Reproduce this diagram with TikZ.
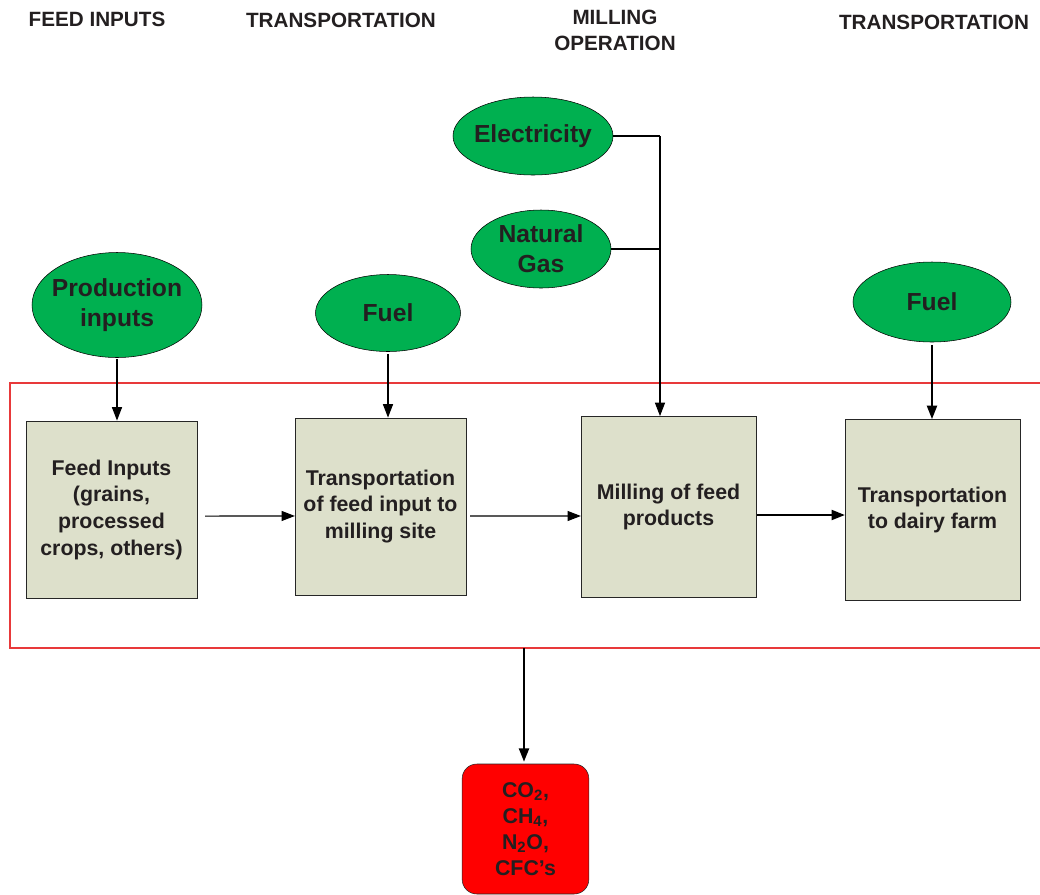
\documentclass[tikz,border=0pt]{standalone}
\usepackage{fontspec}
\setmainfont{Liberation Sans}
\usetikzlibrary{positioning, arrows.meta, shapes.geometric}
\definecolor{inputGreen}{HTML}{00B050}
\definecolor{stepGrey}{HTML}{DDE0CB}
\definecolor{textDark}{HTML}{231F20}
\definecolor{frameRed}{HTML}{E8393A}
\definecolor{emitRed}{HTML}{FF0000}

\begin{document}
\begin{tikzpicture}[x=0.75pt, y=-0.75pt,
    head/.style={font=\bfseries\fontsize{15.5}{19.5}\selectfont, text=textDark, align=center},
    source/.style={ellipse, draw=black, fill=inputGreen, inner sep=0pt, align=center,
                   font=\bfseries\fontsize{18.5}{22.5}\selectfont, text=textDark},
    stepbox/.style={draw=black!85, fill=stepGrey, align=center, inner sep=2pt,
                    font=\bfseries\fontsize{16}{20}\selectfont, text=textDark,
                    minimum width=128pt, minimum height=133pt},
    flow/.style={-{Triangle[length=10pt, width=7.5pt]}, line width=0.8pt},
    flowbold/.style={flow, line width=1.5pt}]
    \useasboundingbox (0,0) rectangle (1040,894);

    % column titles
    \node[head] (hFeed)  at (97,19)   {FEED INPUTS};
    \node[head] (hTrA)   at (341,20)  {TRANSPORTATION};
    \node[head] (hMill)  at (615,30)  {MILLING\\OPERATION};
    \node[head] (hTrB)   at (934,22)  {TRANSPORTATION};

    % inputs
    \node[source, inner xsep=-4pt, minimum width=127.5pt, minimum height=78.75pt] (prod) at (117,305) {Production\\inputs};
    \node[source, minimum width=108.75pt, minimum height=57.75pt] (fuelA) at (388,313) {Fuel};
    \node[source, inner xsep=-2pt, minimum width=120pt, minimum height=58.5pt] (elec) at (533,136) {Electricity};
    \node[source, minimum width=105pt, minimum height=58.5pt] (gas)   at (541,249) {Natural\\Gas};
    \node[source, minimum width=118.5pt, minimum height=60pt] (fuelB) at (932,302) {Fuel};

    % system boundary
    \draw[frameRed, line width=0.8pt] (1040,383) -- (10,383) -- (10,648) -- (1040,648);
    \coordinate (fb) at (524,648);

    % process steps
    \node[stepbox] (feed) at (111.5,509.5) {Feed Inputs\\(grains,\\processed\\crops, others)};
    \node[stepbox] (trA)  at (380.5,506.5) {Transportation\\of feed input to\\milling site};
    \node[stepbox, minimum width=131pt, minimum height=136pt] (mill) at (668.5,507) {Milling of feed\\products};
    \node[stepbox, minimum width=131pt, minimum height=136pt] (trB)  at (932.5,510) {Transportation\\to dairy farm};

    % emissions
    \node[draw=black!85, fill=emitRed, rounded corners=11pt, align=center,
          minimum width=95pt, minimum height=97.5pt, text=textDark,
          font=\bfseries\fontsize{16}{19.5}\selectfont] (emis) at (525.5,829)
      {CO\textsubscript{2},\\CH\textsubscript{4},\\N\textsubscript{2}O,\\CFC’s};

    % connectors
    \draw[flow] ([yshift=-1pt]prod.south) -- (prod.south |- feed.north);
    \draw[flow] ([yshift=-2pt]fuelA.south) -- (fuelA.south |- trA.north);
    \coordinate (jn) at (660,136);
    \draw[line width=0.8pt] (elec.east) -- (jn);
    \draw[line width=0.8pt] (gas.east) -- (gas.east -| jn);
    \draw[flow] (jn) -- (jn |- mill.north);
    \draw[flowbold] ([yshift=-2pt]fuelB.south) -- (fuelB.south |- trB.north);

    \draw[flow] ([shift={(6pt,-4.9pt)}]feed.east) -- ([yshift=-7.1pt]trA.west);
    \draw[flow] ([shift={(3pt,-7.1pt)}]trA.east) -- ([yshift=-6.75pt]mill.west);
    \draw[flowbold] ([shift={(1pt,-6pt)}]mill.east) -- ([yshift=-3.75pt]trB.west);
    \draw[flowbold] (fb) -- ([yshift=1.5pt]emis.north -| fb);
\end{tikzpicture}
\end{document}
